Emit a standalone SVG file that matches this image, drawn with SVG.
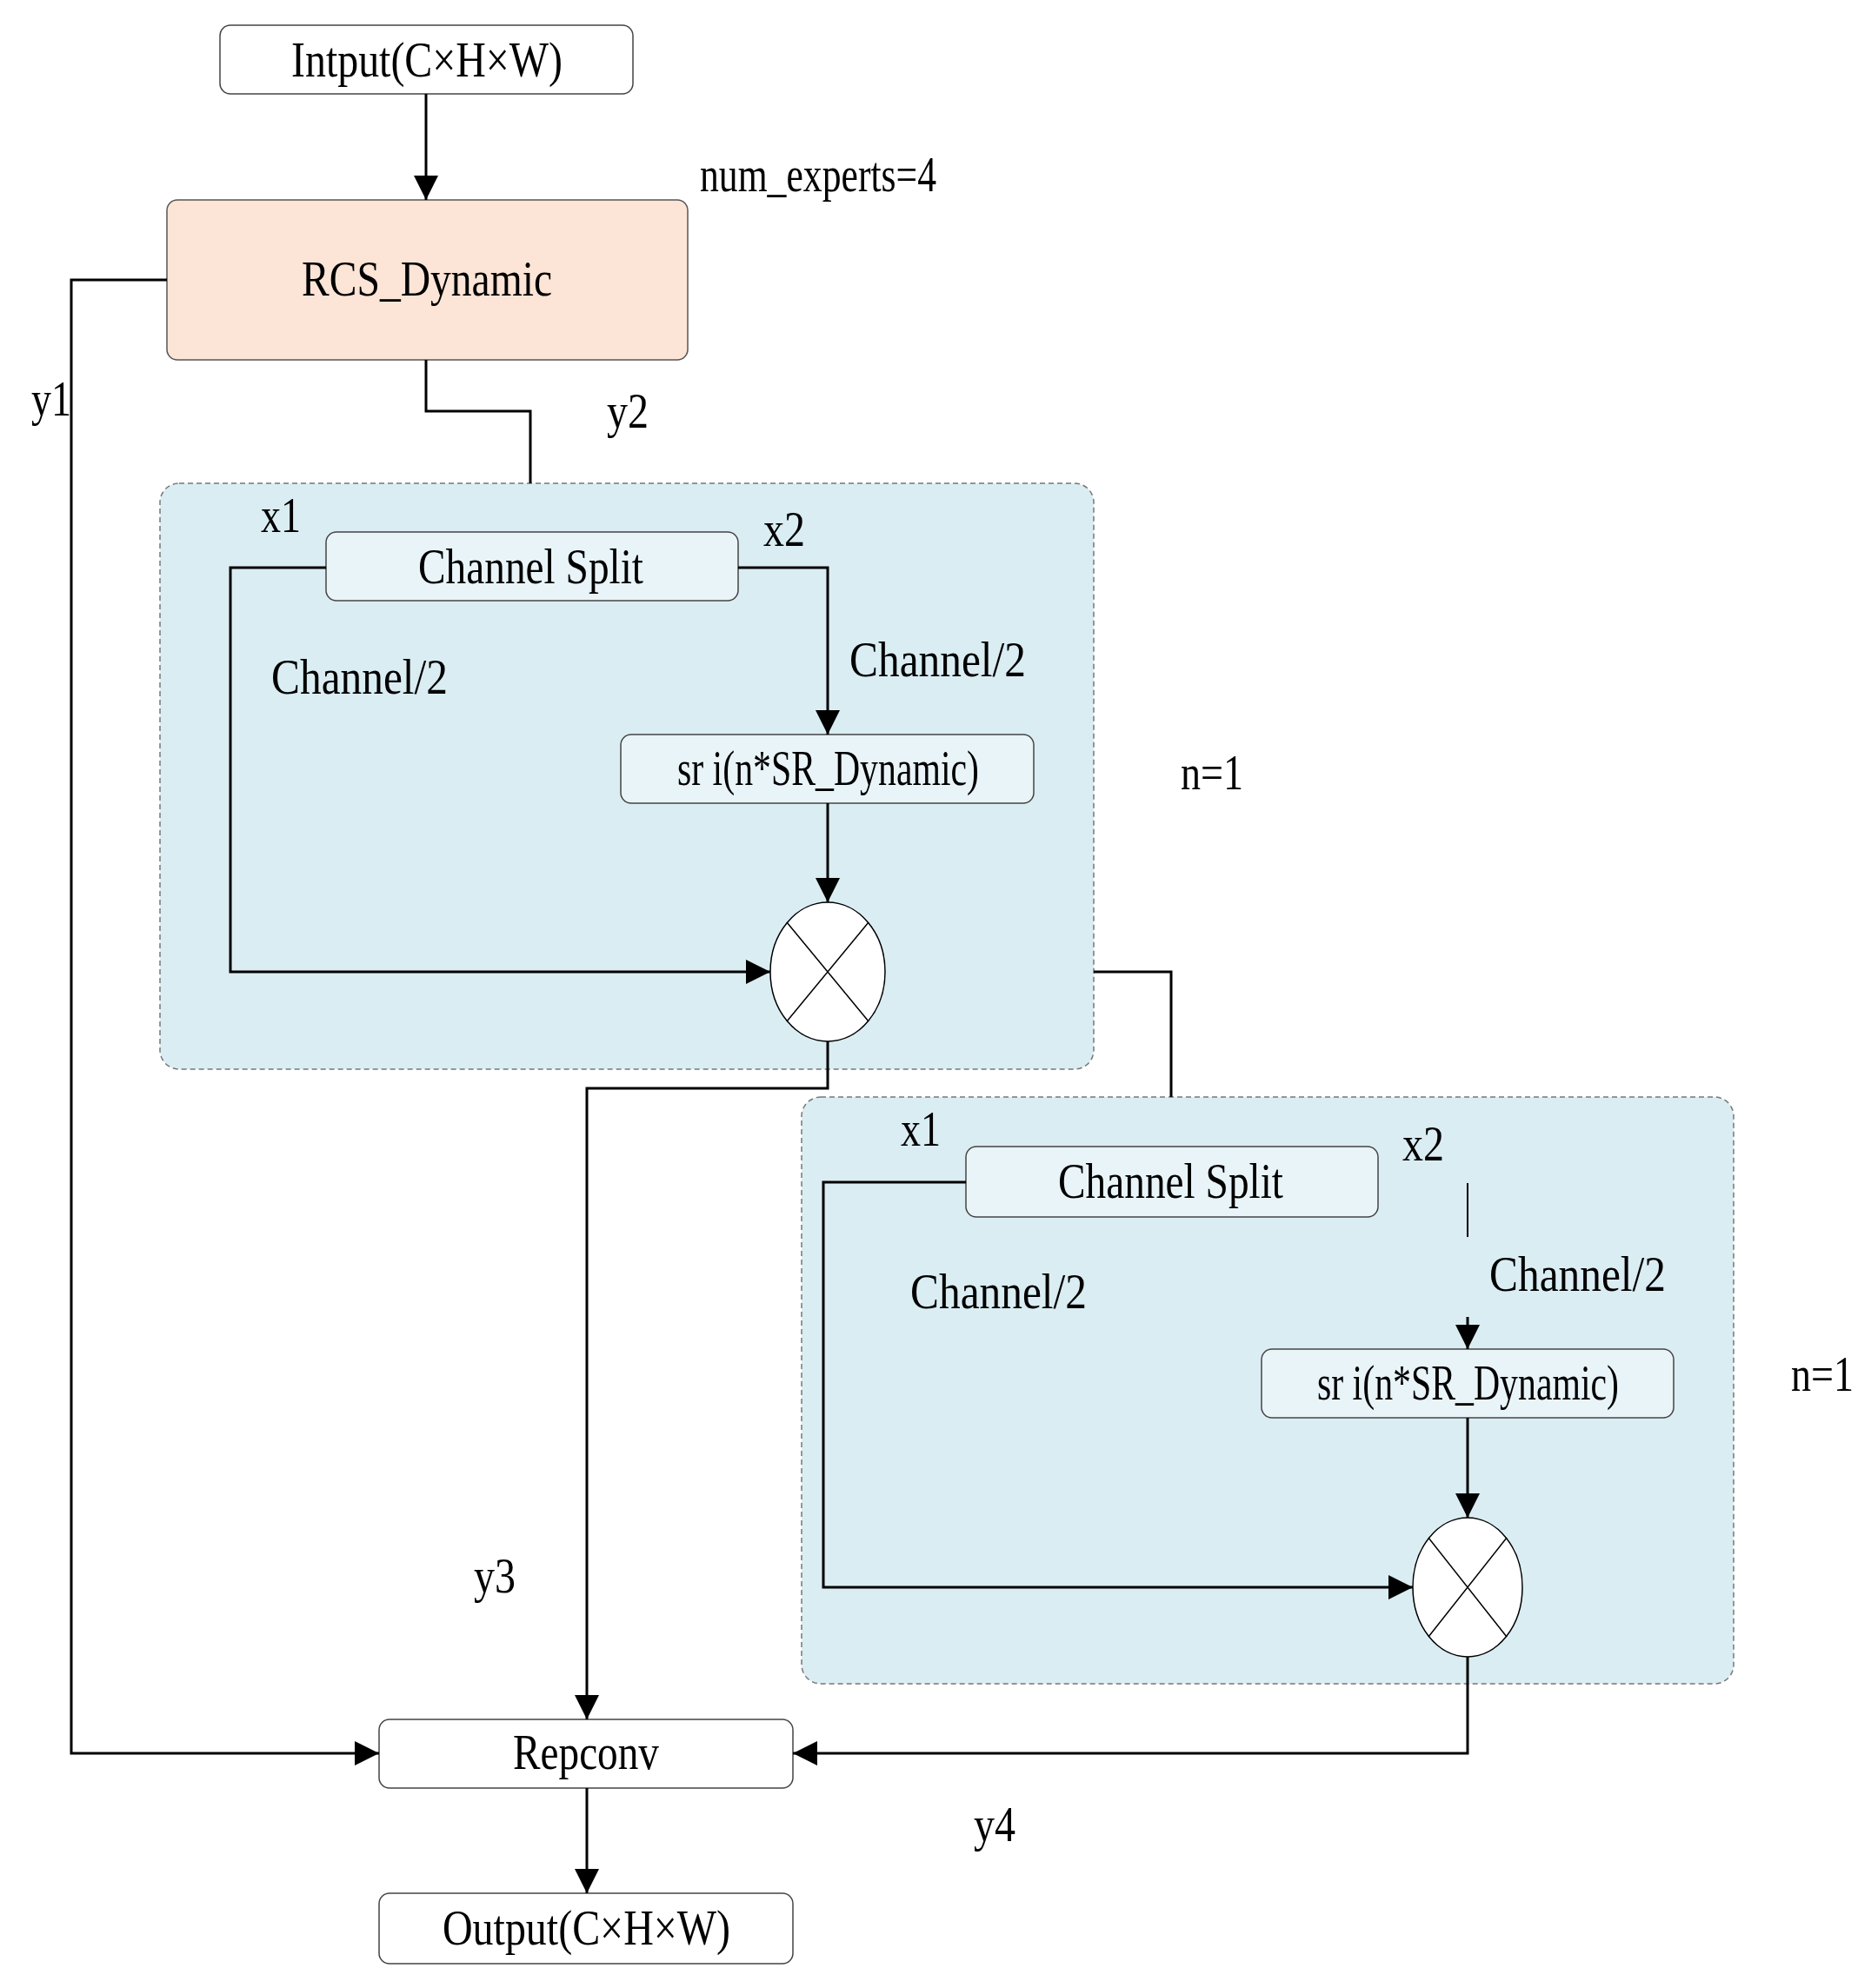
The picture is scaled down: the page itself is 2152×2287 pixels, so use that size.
<svg xmlns="http://www.w3.org/2000/svg" width="2152" height="2287" viewBox="0 0 2152 2287">
<defs>
<marker id="ah" viewBox="0 0 10 10" refX="10" refY="5" markerWidth="28" markerHeight="28" markerUnits="userSpaceOnUse" orient="auto"><path d="M0,0 L10,5 L0,10 z" fill="#000"/></marker>
</defs>
<style>
text{font-family:"Liberation Serif","Times New Roman",serif;font-size:56px;fill:#000}
.box{fill:#fff;stroke:#444;stroke-width:1.5}
.inner{fill:#e9f4f9;stroke:#444;stroke-width:1.5}
.cont{fill:#daedf3;stroke:#777;stroke-width:1.5;stroke-dasharray:6 4}
.ln{fill:none;stroke:#000;stroke-width:3}
.ar{fill:none;stroke:#000;stroke-width:3;marker-end:url(#ah)}
</style>
<rect width="2152" height="2287" fill="#fff"/>
<g id="container1"><rect class="cont" x="184" y="556" width="1074" height="674" rx="22"/></g>
<g id="container2"><rect class="cont" x="922" y="1262" width="1072" height="675" rx="22"/></g>
<g id="input"><rect class="box" x="253" y="29" width="475" height="79" rx="12"/><text x="335" y="88" textLength="312" lengthAdjust="spacingAndGlyphs">Intput(C×H×W)</text></g>
<g id="rcs"><rect x="192" y="230" width="599" height="184" rx="12" fill="#fce4d6" stroke="#555" stroke-width="1.5"/><text x="347" y="340" textLength="288" lengthAdjust="spacingAndGlyphs">RCS_Dynamic</text></g>
<g id="split1"><rect class="inner" x="375" y="612" width="474" height="79" rx="12"/><text x="481" y="671" textLength="259" lengthAdjust="spacingAndGlyphs">Channel Split</text></g>
<g id="sr1"><rect class="inner" x="714" y="845" width="475" height="79" rx="12"/><text x="779" y="903" textLength="347" lengthAdjust="spacingAndGlyphs">sr i(n*SR_Dynamic)</text></g>
<g id="mul1"><ellipse cx="952" cy="1118" rx="66" ry="80" fill="#fff" stroke="#000" stroke-width="1.5"/><path class="ln" style="stroke-width:1.5" d="M905,1061 L999,1175 M999,1061 L905,1175"/></g>
<g id="split2"><rect class="inner" x="1111" y="1319" width="474" height="81" rx="12"/><text x="1217" y="1378" textLength="259" lengthAdjust="spacingAndGlyphs">Channel Split</text></g>
<g id="sr2"><rect class="inner" x="1451" y="1552" width="474" height="79" rx="12"/><text x="1515" y="1610" textLength="347" lengthAdjust="spacingAndGlyphs">sr i(n*SR_Dynamic)</text></g>
<g id="mul2"><ellipse cx="1688" cy="1826" rx="63" ry="80" fill="#fff" stroke="#000" stroke-width="1.5"/><path class="ln" style="stroke-width:1.5" d="M1643,1769 L1733,1883 M1733,1769 L1643,1883"/></g>
<g id="repconv"><rect class="box" x="436" y="1978" width="476" height="79" rx="12"/><text x="590" y="2035" textLength="168" lengthAdjust="spacingAndGlyphs">Repconv</text></g>
<g id="output"><rect class="box" x="436" y="2178" width="476" height="81" rx="12"/><text x="509" y="2237" textLength="331" lengthAdjust="spacingAndGlyphs">Output(C×H×W)</text></g>
<g id="connectors">
<path class="ar" d="M490,108 L490,230"/>
<path class="ar" d="M192,322 L82,322 L82,2017 L436,2017"/>
<path class="ln" d="M490,414 L490,473 L610,473 L610,556"/>
<path class="ar" d="M375,653 L265,653 L265,1118 L886,1118"/>
<path class="ar" d="M849,653 L952,653 L952,845"/>
<path class="ar" d="M952,924 L952,1038"/>
<path class="ln" d="M1258,1118 L1347,1118 L1347,1262"/>
<path class="ar" d="M952,1198 L952,1252 L675,1252 L675,1978"/>
<path class="ar" d="M1111,1360 L947,1360 L947,1826 L1625,1826"/>
<path class="ln" style="stroke-width:2" d="M1688,1361 L1688,1423"/>
<path class="ar" d="M1688,1515 L1688,1552"/>
<path class="ar" d="M1688,1631 L1688,1746"/>
<path class="ar" d="M1688,1906 L1688,2017 L912,2017"/>
<path class="ar" d="M675,2057 L675,2178"/>
</g>
<g id="labels">
<text x="805" y="220" textLength="272" lengthAdjust="spacingAndGlyphs">num_experts=4</text>
<text x="36" y="478" textLength="46" lengthAdjust="spacingAndGlyphs">y1</text>
<text x="698" y="492" textLength="48" lengthAdjust="spacingAndGlyphs">y2</text>
<text x="300" y="612" textLength="46" lengthAdjust="spacingAndGlyphs">x1</text>
<text x="878" y="628" textLength="48" lengthAdjust="spacingAndGlyphs">x2</text>
<text x="312" y="798" textLength="203" lengthAdjust="spacingAndGlyphs">Channel/2</text>
<text x="977" y="778" textLength="203" lengthAdjust="spacingAndGlyphs">Channel/2</text>
<text x="1358" y="908" textLength="72" lengthAdjust="spacingAndGlyphs">n=1</text>
<text x="1036" y="1318" textLength="46" lengthAdjust="spacingAndGlyphs">x1</text>
<text x="1613" y="1335" textLength="48" lengthAdjust="spacingAndGlyphs">x2</text>
<text x="1047" y="1505" textLength="203" lengthAdjust="spacingAndGlyphs">Channel/2</text>
<text x="1713" y="1485" textLength="203" lengthAdjust="spacingAndGlyphs">Channel/2</text>
<text x="2060" y="1600" textLength="72" lengthAdjust="spacingAndGlyphs">n=1</text>
<text x="545" y="1832" textLength="48" lengthAdjust="spacingAndGlyphs">y3</text>
<text x="1120" y="2118" textLength="48" lengthAdjust="spacingAndGlyphs">y4</text>
</g>
</svg>
